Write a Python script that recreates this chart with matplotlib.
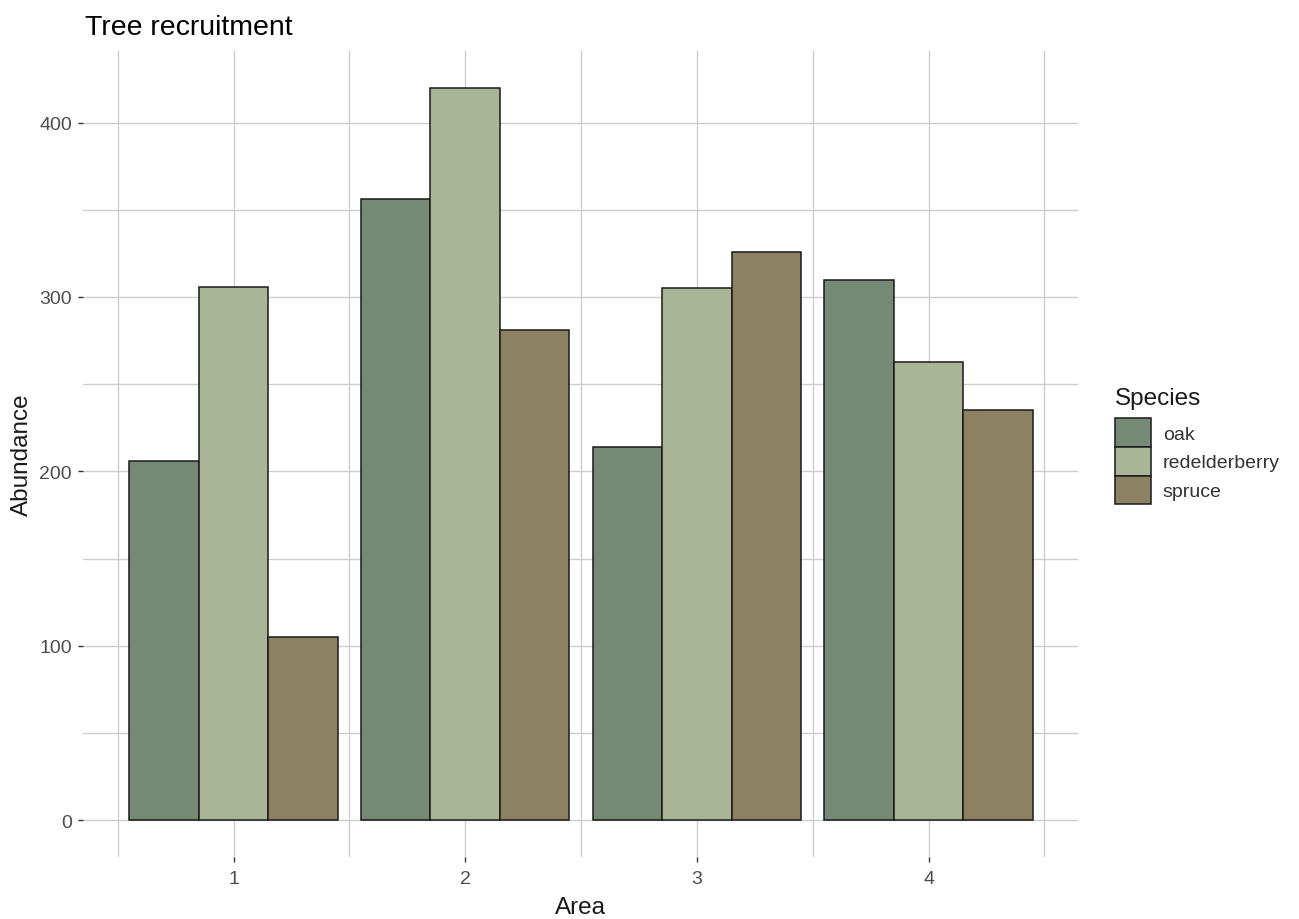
import numpy as np
import matplotlib
matplotlib.use("Agg")
import matplotlib.pyplot as plt
from matplotlib.patches import Patch

# ---- data ----
areas = ["1", "2", "3", "4"]
species = ["oak", "redelderberry", "spruce"]
oak = [206, 356, 214, 310]
redelderberry = [306, 420, 305, 263]
spruce = [105, 281, 326, 235]
colors = ["#758a74", "#aab597", "#8c8163"]

plt.rcParams["font.family"] = ["Liberation Sans", "DejaVu Sans"]

W, H = 1299, 920
fig = plt.figure(figsize=(W / 100, H / 100), dpi=100)
ax = fig.add_axes([83 / W, (H - 858) / H, (1078 - 83) / W, (858 - 52) / H])

x = np.arange(1, len(areas) + 1)
width = 0.3
series = [oak, redelderberry, spruce]
for i, (vals, name, col) in enumerate(zip(series, species, colors)):
    ax.bar(x + (i - 1) * width, vals, width=width, color=col,
           edgecolor="#1a1a1a", linewidth=1.1, label=name, zorder=3)

ax.set_xlim(0.35, 4.645)
ax.set_ylim(-21, 441)
ax.set_xticks(x)
ax.set_xticklabels(areas)
ax.set_xticks(np.arange(0.5, 5.0, 1.0), minor=True)
ax.set_yticks([0, 100, 200, 300, 400])
ax.set_yticks([50, 150, 250, 350], minor=True)

for s in ax.spines.values():
    s.set_visible(False)
ax.grid(True, which="both", color="#cdcdcd", linewidth=1.0, zorder=0)
ax.set_axisbelow(True)

ax.tick_params(which="major", length=3.6, width=1.0, color="#333333",
               labelcolor="#4d4d4d", labelsize=14)
ax.tick_params(axis="y", which="major", pad=4.3)
ax.tick_params(axis="x", which="major", pad=5.5)
ax.tick_params(which="minor", length=0)

ax.set_xlabel("Area", fontsize=17.5, color="#1a1a1a")
ax.set_ylabel("Abundance", fontsize=17.5, color="#1a1a1a")
ax.xaxis.set_label_coords(0.5, (858 - 908) / 806)
ax.yaxis.set_label_coords((22 - 83) / 995, 0.5)
ax.xaxis.label.set_va("center")
ax.yaxis.label.set_va("center")

fig.text(85 / W, 1 - 35 / H, "Tree recruitment", fontsize=20.5,
         color="#000000", ha="left", va="baseline")

# legend
fs = 14
handles = [Patch(facecolor=c, edgecolor="#1a1a1a", linewidth=1.1) for c in colors]
leg = ax.legend(handles, species, loc="upper left",
                bbox_to_anchor=(1115 / W, 1 - 419 / H),
                bbox_transform=fig.transFigure, frameon=False,
                fontsize=fs, borderpad=0, borderaxespad=0,
                labelspacing=0, handlelength=36 / (fs * 100 / 72),
                handleheight=37 / (fs * 100 / 72),
                handletextpad=0.6)
for t in leg.get_texts():
    t.set_color("#333333")
fig.text(1115 / W, 1 - 399 / H, "Species", fontsize=17.5, color="#1a1a1a",
         ha="left", va="center")

fig.savefig("out.png", dpi=100, facecolor="white")
